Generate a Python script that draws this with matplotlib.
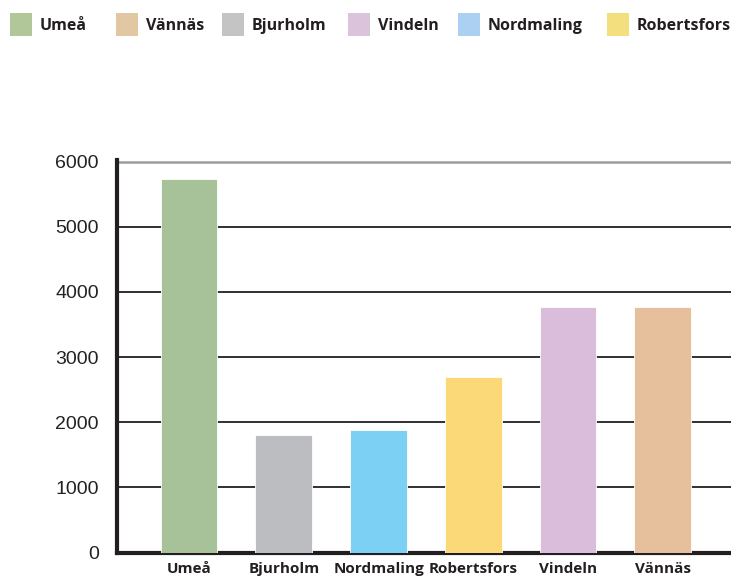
import matplotlib.pyplot as plt
from matplotlib.patches import Rectangle

# data
kommuner = ['Umeå', 'Bjurholm', 'Nordmaling', 'Robertsfors', 'Vindeln', 'Vännäs']
values = [5730, 1810, 1880, 2700, 3770, 3770]
bar_colors = ['#a7c298', '#bcbdc1', '#7bd0f4', '#fcd978', '#dabcdb', '#e6bf9c']

legend_names = ['Umeå', 'Vännäs', 'Bjurholm', 'Vindeln', 'Nordmaling', 'Robertsfors']
legend_colors = ['#b1c79a', '#e2c7a3', '#c4c4c4', '#dcc3dc', '#abd0f2', '#f3df7e']
yticks = [0, 1000, 2000, 3000, 4000, 5000, 6000]

W, H = 731, 580
fig = plt.figure(figsize=(W / 100, H / 100), dpi=100)
ax = fig.add_axes([117 / W, 1 - 552.5 / H, 1 - 117 / W, (552.5 - 161.5) / H])

x = range(len(kommuner))
ax.bar(x, values, width=0.6, color=bar_colors, edgecolor='white', linewidth=0.6, zorder=3)

ax.set_xlim(-0.76, 5.72)
ax.set_ylim(0, 6000)
ax.set_yticks(yticks)
ax.set_yticklabels([str(v) for v in yticks], fontsize=14, family='Liberation Sans', color='#222222')
ax.set_xticks(list(x))
ax.set_xticklabels(kommuner, fontsize=11, fontweight='bold', family='Open Sans', color='#231f20')
ax.tick_params(axis='y', length=0, pad=13)
ax.tick_params(axis='x', length=0, pad=7)

# horizontal grid lines, top one grey
for v in yticks[1:-1]:
    ax.axhline(v, color='#231f20', linewidth=1.3, zorder=1)
ax.axhline(6000, color='#9a9c9f', linewidth=1.8, zorder=1, clip_on=False)

for side in ['top', 'right']:
    ax.spines[side].set_visible(False)
ax.spines['left'].set_linewidth(3)
ax.spines['bottom'].set_linewidth(3)
ax.spines['left'].set_color('#231f20')
ax.spines['bottom'].set_color('#231f20')
ax.spines['left'].set_bounds(0, 6030)

# legend row at the top
sq_x = [10, 116, 222, 348, 458, 607]
for sx, name, col in zip(sq_x, legend_names, legend_colors):
    fig.add_artist(Rectangle((sx / W, 1 - 36 / H), 22 / W, 23 / H,
                             transform=fig.transFigure, facecolor=col, edgecolor='none'))
    fig.text((sx + 30) / W, 1 - 26 / H, name, fontsize=11.5, fontweight='bold',
             family='Open Sans', color='#231f20', va='center', ha='left')

fig.savefig('out.png', dpi=100)
